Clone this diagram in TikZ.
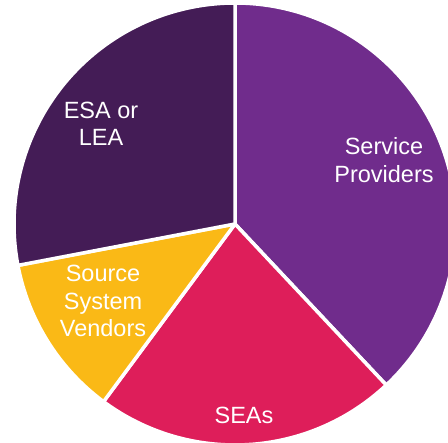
\documentclass[tikz,border=0pt]{standalone}
\usepackage{fontspec}
\setmainfont{Liberation Sans}
\definecolor{esacol}{RGB}{68,28,86}
\definecolor{spcol}{RGB}{112,44,140}
\definecolor{seacol}{RGB}{222,30,90}
\definecolor{ssvcol}{RGB}{250,185,22}
\tikzset{
  slice/.style={draw=white, line width=3.5pt, line join=round},
  plabel/.style={text=white, align=center, font=\fontsize{23.5}{27.5}\selectfont}
}
\begin{document}
\begin{tikzpicture}[x=1pt,y=1pt]
\useasboundingbox (0,0) rectangle (448,443);
\clip (0,0) rectangle (448,443);
\coordinate (ctr) at (235,219);
\filldraw[slice, fill=spcol] (ctr) -- ++(90:221) arc[start angle=90, end angle=-46.8, radius=221] -- cycle;
\filldraw[slice, fill=seacol] (ctr) -- ++(-46.8:221) arc[start angle=-46.8, end angle=-126.5, radius=221] -- cycle;
\filldraw[slice, fill=ssvcol] (ctr) -- ++(233.5:221) arc[start angle=233.5, end angle=190.8, radius=221] -- cycle;
\filldraw[slice, fill=esacol] (ctr) -- ++(190.8:221) arc[start angle=190.8, end angle=90, radius=221] -- cycle;
\node[plabel] (esa) at (101,319){ESA or\\LEA};
\node[plabel] (sp) at (384,283){Service\\Providers};
\node[plabel] (ssv) at (103,142){Source\\System\\Vendors};
\node[plabel] (sea) at (244,28){SEAs};
\end{tikzpicture}
\end{document}
